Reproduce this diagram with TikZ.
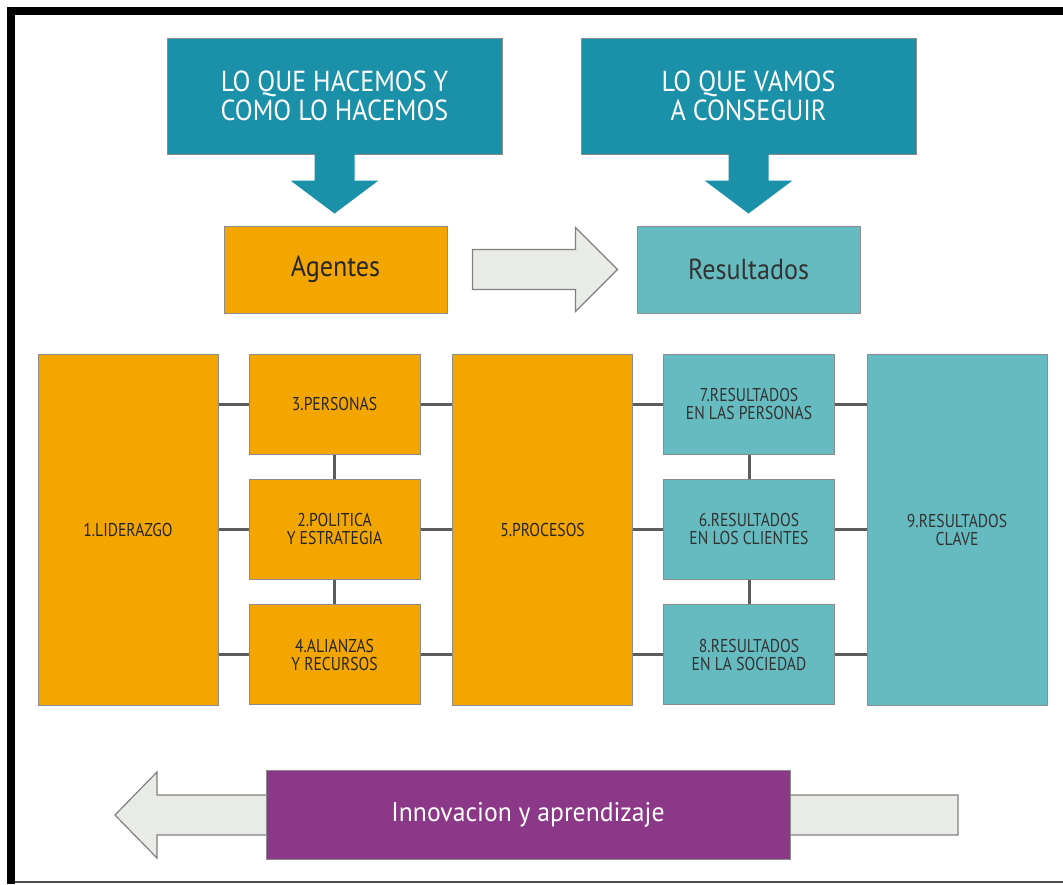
\documentclass[tikz,border=0pt]{standalone}
\usepackage{fontspec}
\setmainfont{PT Sans}
\newfontfamily\semicond[FakeStretch=0.9]{PT Sans}
\newfontfamily\widecond[FakeStretch=0.95]{PT Sans}
\newfontfamily\condensed[FakeStretch=0.84]{PT Sans}
\usetikzlibrary{positioning}

\definecolor{titleblue}{HTML}{1A91A9}
\definecolor{agentorange}{HTML}{F4A600}
\definecolor{resultteal}{HTML}{65BBC0}
\definecolor{innovpurple}{HTML}{8B3888}
\definecolor{arrowgray}{HTML}{E8EBE6}
\definecolor{linkgray}{HTML}{5C5C5C}

\tikzset{
	box/.style = {draw=black!45, line width=0.5pt, inner sep=0pt, align=center},
	titlebox/.style = {box, fill=titleblue, text=white, minimum width=167.5pt, minimum height=58pt,
		font=\semicond\fontsize{14.5}{14.5}\selectfont},
	headbox/.style = {box, minimum width=111.5pt, minimum height=43.5pt,
		font=\semicond\fontsize{14.5}{15}\selectfont},
	agent/.style = {box, fill=agentorange, text=black!85},
	result/.style = {box, fill=resultteal, text=black!80},
	tall/.style = {minimum width=90pt, minimum height=175.5pt, font=\condensed\fontsize{9.3}{9}\selectfont},
	small/.style = {minimum width=85.5pt, minimum height=50pt, font=\condensed\fontsize{9.3}{9}\selectfont},
	link/.style = {draw=linkgray, line width=1.5pt},
	flowarrow/.style = {fill=arrowgray, draw=black!50, line width=0.6pt, line join=miter}
}

\begin{document}
\begin{tikzpicture}[x=0.5pt, y=-0.5pt]
		\useasboundingbox (0,0) rectangle (1063,884);
		% frame
		\fill (7,7) rectangle (1063,15);
		\fill (7,7) rectangle (15,884);
		\draw[black!70, line width=0.8pt] (15,882) -- (1063,882);

		% top row
		\node[titlebox] (hacemos) at (334.5,96) {LO QUE HACEMOS Y\\COMO LO HACEMOS};
		\node[titlebox] (conseguir) at (748.5,96) {LO QUE VAMOS\\A CONSEGUIR};
		\foreach \t in {hacemos,conseguir}
			\fill[titleblue, shift={(\t.south)}] (-20,-1) -- (-20,26) -- (-44,26) -- (0,59) -- (44,26) -- (20,26) -- (20,-1) -- cycle;

		\node[headbox, agent] (agentes) at (335.5,269.5) {Agentes};
		\node[headbox, result] (resultados) at (748.5,269.5) {Resultados};
		\draw[flowarrow, shift={(agentes.east)}] (25,-20) -- (128,-20) -- (128,-42) -- (170,0) -- (128,42) -- (128,20) -- (25,20) -- cycle;

		% criteria
		\node[agent, tall] (liderazgo) at (128,529.5) {1.LIDERAZGO};
		\node[agent, small] (personas) at (334.5,404) {3.PERSONAS};
		\node[agent, small] (politica) at (334.5,529) {2.POLITICA\\Y ESTRATEGIA};
		\node[agent, small] (alianzas) at (334.5,654.5) {4.ALIANZAS\\Y RECURSOS};
		\node[agent, tall] (procesos) at (542.5,529.5) {5.PROCESOS};
		\node[result, small] (rpersonas) at (749,404) {7.RESULTADOS\\EN LAS PERSONAS};
		\node[result, small] (rclientes) at (749,529) {6.RESULTADOS\\EN LOS CLIENTES};
		\node[result, small] (rsociedad) at (749,654.5) {8.RESULTADOS\\EN LA SOCIEDAD};
		\node[result, tall] (clave) at (957,529.5) {9.RESULTADOS\\CLAVE};

		\foreach \n in {personas,politica,alianzas} {
			\draw[link] (\n.west) -- (liderazgo.east |- \n.west);
			\draw[link] (\n.east) -- (procesos.west |- \n.east);
		}
		\foreach \n in {rpersonas,rclientes,rsociedad} {
			\draw[link] (\n.west) -- (procesos.east |- \n.west);
			\draw[link] (\n.east) -- (clave.west |- \n.east);
		}
		\draw[link] (personas.south) -- (politica.north);
		\draw[link] (politica.south) -- (alianzas.north);
		\draw[link] (rpersonas.south) -- (rclientes.north);
		\draw[link] (rclientes.south) -- (rsociedad.north);

		% bottom
		\draw[flowarrow] (958,795) -- (157,795) -- (157,772) -- (115,815) -- (157,858) -- (157,835) -- (958,835) -- cycle;
		\node[box, fill=innovpurple, text=white, minimum width=262pt, minimum height=44.5pt,
			font=\widecond\fontsize{13.5}{14}\selectfont] (innovacion) at (528,814.5) {Innovacion y aprendizaje};
\end{tikzpicture}
\end{document}
